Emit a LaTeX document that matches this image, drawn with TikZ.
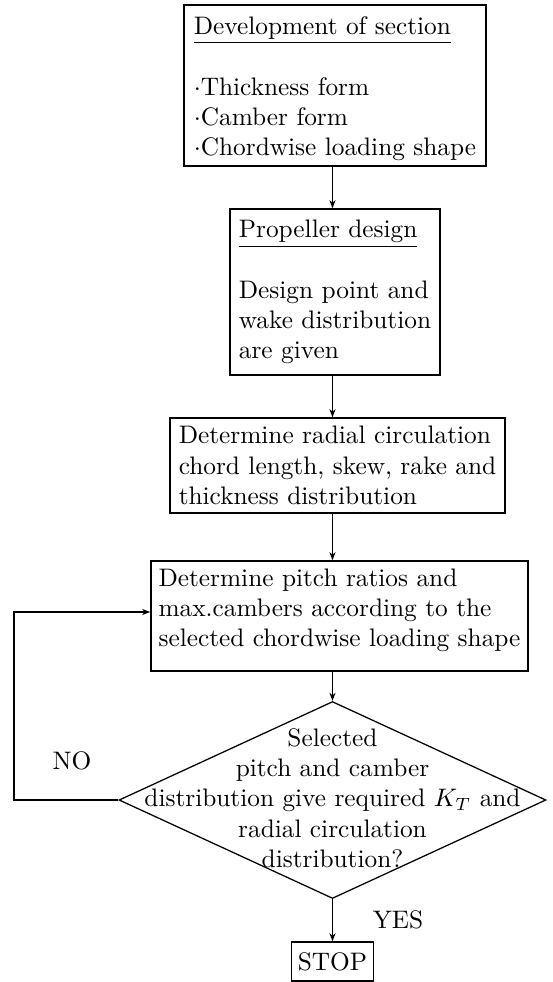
\documentclass[tikz,border=0pt]{standalone}
\usetikzlibrary{arrows.meta,shapes.geometric}
\def\pxu{0.395pt}
\tikzset{
  box/.style={draw, rectangle, line width=0.6pt, inner sep=0pt, align=left},
  dec/.style={draw, diamond, line width=0.5pt, inner sep=0pt},
  lbl/.style={inner sep=0pt, align=center},
  arr/.style={line width=0.45pt, -{Stealth[length=3.2pt,width=2.4pt]}}
}
\begin{document}
\begin{tikzpicture}[x=0.395pt, y=-0.395pt]
\useasboundingbox (0,0) rectangle (553,982);
\node[box, minimum width={302*\pxu}, minimum height={161*\pxu}] (b1) at (335,85.5)
  {\rule{0pt}{9.6pt}\underline{Development of section}\\[12pt]$\cdot$Thickness form\\$\cdot$Camber form\\$\cdot$Chordwise loading shape};
\node[box, minimum width={210*\pxu}, minimum height={166*\pxu}] (b2) at (335,292)
  {\underline{Propeller design}\\[12pt]Design point and\\wake distribution\\are given};
\node[box, minimum width={335*\pxu}, minimum height={95*\pxu}] (b3) at (337.5,465.5)
  {Determine radial circulation\\chord length, skew, rake and\\thickness distribution};
\node[box, minimum width={377*\pxu}, minimum height={110*\pxu}] (b4) at (339.5,616)
  {Determine pitch ratios and\\max.cambers according to the\\selected chordwise loading shape\rule[-6.6pt]{0pt}{6.6pt}};
\node[dec, minimum width={427*\pxu}, minimum height={197*\pxu}] (d) at (332.5,800) {};
\node[lbl] (dt) at (332.5,798)
  {Selected\\pitch and camber\\distribution give required $K_T$ and\\radial circulation\\distribution?};
\node[box, align=center, minimum width={82*\pxu}, minimum height={39*\pxu}] (stop) at (332.5,961.5) {STOP};
\node[lbl] (no) at (72,761) {NO};
\node[lbl] (yes) at (398,920) {YES};
\coordinate (fb) at (14,612);
\draw[arr] (b1.south -| d.north) -- (b2.north -| d.north);
\draw[arr] (b2.south -| d.north) -- (b3.north -| d.north);
\draw[arr] (b3.south -| d.north) -- (b4.north -| d.north);
\draw[arr] (b4.south -| d.north) -- (d.north);
\draw[arr] (d.south) -- (stop.north);
\draw[arr] (d.west) -| (fb) -- (fb -| b4.west);
\end{tikzpicture}
\end{document}
